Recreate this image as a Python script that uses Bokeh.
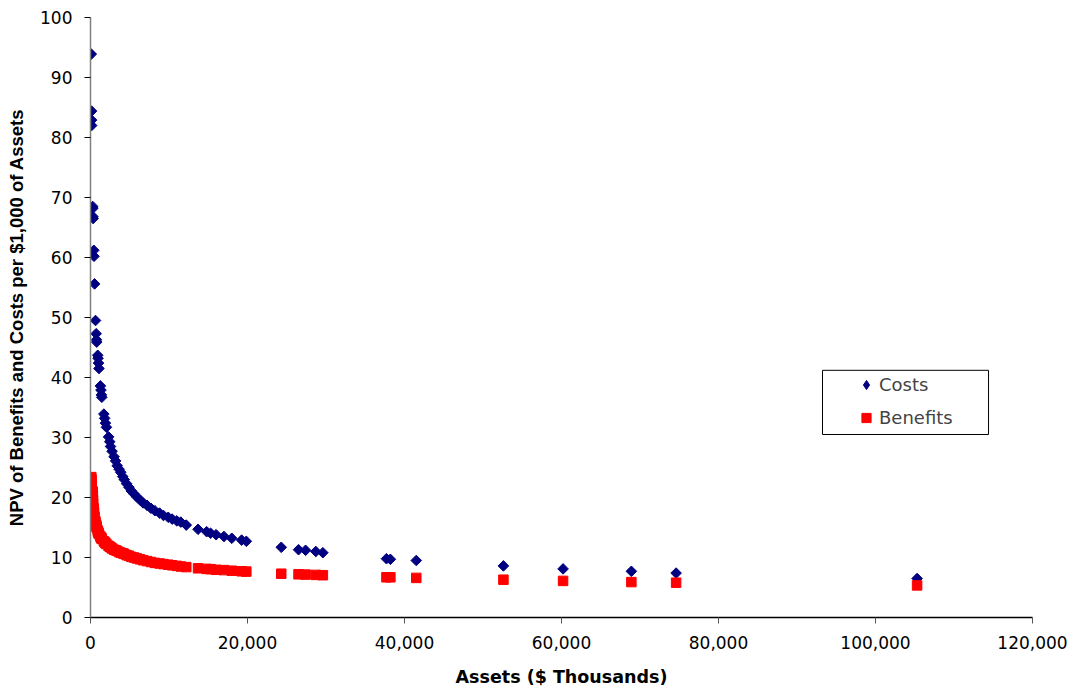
from bokeh.plotting import figure
from bokeh.models import (Range1d, NumeralTickFormatter, FixedTicker, Legend, LegendItem,
                          BoxAnnotation, ColumnDataSource)
from bokeh.embed import file_html
from bokeh.resources import INLINE
import math

# ---- data ----
assets = [100, 130, 140, 150, 280, 300, 320, 330, 420, 450, 520, 640, 720, 760, 790,
          920, 960, 1020, 1080, 1260, 1330, 1390, 1440, 1700, 1800, 1900, 2030, 2300,
          2450, 2550, 2750, 3000, 3200, 3400, 3650, 3850, 4100, 4300, 4600, 4900, 5200,
          5550, 5900, 6300, 6700, 7200, 7700, 8200, 8800, 9300, 9900, 10400, 11000,
          11500, 12200, 13700, 14800, 15300, 16000, 17000, 18000, 19250, 19850, 24300,
          26500, 27400, 28700, 29600, 37700, 38200, 41500, 52600, 60200, 68900, 74600,
          105300]
costs = [93.9, 84.4, 82.9, 82.0, 68.5, 68.2, 66.8, 66.5, 61.2, 60.2, 55.6, 49.5, 47.3,
         46.3, 45.9, 43.7, 43.2, 42.4, 41.5, 38.6, 37.9, 37.1, 36.7, 33.9, 33.2, 32.4,
         31.7, 30.1, 29.3, 28.5, 27.7, 26.8, 26.1, 25.3, 24.7, 24.2, 23.5, 23.0, 22.3,
         21.7, 21.1, 20.6, 20.1, 19.6, 19.1, 18.7, 18.2, 17.8, 17.4, 17.0, 16.7, 16.4,
         16.1, 15.9, 15.4, 14.7, 14.3, 14.05, 13.8, 13.5, 13.2, 12.9, 12.7, 11.7, 11.3,
         11.2, 11.0, 10.8, 9.8, 9.7, 9.5, 8.6, 8.1, 7.7, 7.4, 6.5]
benefits = [23.4, 23.0, 22.5, 22.0, 21.0, 20.3, 19.6, 19.0, 18.2, 17.5, 16.8, 16.0, 15.5,
            15.2, 15.0, 14.5, 14.3, 14.1, 13.9, 13.5, 13.3, 13.2, 13.1, 12.7, 12.55, 12.4,
            12.25, 11.95, 11.8, 11.7, 11.5, 11.3, 11.2, 11.1, 10.9, 10.8, 10.7, 10.6, 10.4,
            10.3, 10.1, 10.0, 9.85, 9.7, 9.55, 9.4, 9.25, 9.1, 9.0, 8.9, 8.8, 8.7, 8.6,
            8.5, 8.4, 8.2, 8.1, 8.05, 7.95, 7.9, 7.8, 7.7, 7.65, 7.3, 7.2, 7.15, 7.1, 7.05,
            6.7, 6.7, 6.6, 6.3, 6.1, 5.9, 5.8, 5.35]
x_ticks = [0, 20000, 40000, 60000, 80000, 100000, 120000]
y_ticks = [0, 10, 20, 30, 40, 50, 60, 70, 80, 90, 100]
series_names = ["Costs", "Benefits"]

src = ColumnDataSource(dict(assets=assets, costs=costs, benefits=benefits))

p = figure(frame_width=942, frame_height=600,
           x_range=Range1d(0, 120000), y_range=Range1d(0, 100),
           output_backend="svg", toolbar_location=None,
           min_border_left=90, min_border_top=17, min_border_right=39, min_border_bottom=72)
p.background_fill_color = "white"
p.border_fill_color = "white"
p.outline_line_color = None
p.xgrid.visible = False
p.ygrid.visible = False

p.xaxis.ticker = FixedTicker(ticks=x_ticks)
p.yaxis.ticker = FixedTicker(ticks=y_ticks)
p.xaxis.formatter = NumeralTickFormatter(format="0,0")

for ax in (p.xaxis[0], p.yaxis[0]):
    ax.major_tick_in = 0
    ax.major_tick_out = 6
    ax.minor_tick_in = 0
    ax.minor_tick_out = 0
    ax.major_label_text_font = "DejaVu Sans"
    ax.major_label_text_font_size = "17px"
    ax.major_label_text_color = "black"
    ax.axis_label_text_font_style = "bold"
    ax.axis_label_text_color = "black"

p.xaxis.axis_line_color = "black"
p.xaxis.axis_line_width = 1.5
p.xaxis.major_tick_line_color = "#555555"
p.xaxis.major_label_standoff = 12
p.xaxis.axis_label = "Assets ($ Thousands)"
p.xaxis.axis_label_standoff = 15
p.xaxis.axis_label_text_font = "DejaVu Sans"
p.xaxis.axis_label_text_font_size = "17.5px"

p.yaxis.axis_line_color = "#808080"
p.yaxis.axis_line_width = 1.5
p.yaxis.major_tick_line_color = "black"
p.yaxis.major_label_standoff = 12
p.yaxis.axis_label = "NPV of Benefits and Costs per $1,000 of Assets"
p.yaxis.axis_label_standoff = 10
p.yaxis.axis_label_text_font = "Liberation Sans"
p.yaxis.axis_label_text_font_size = "18.5px"

r_cost = p.scatter("assets", "costs", source=src, marker="square", angle=math.pi / 4,
                   size=7.5, fill_color="#000080", line_color="#000080")
r_ben = p.scatter("assets", "benefits", source=src, marker="square",
                  size=9.5, fill_color="#FF0000", line_color="#FF0000")

# legend key for the diamond symbol (legend glyphs ignore marker angle):
# same data, drawn on a hidden range so it never shows inside the plot area
p.extra_y_ranges = {"key": Range1d(1000, 2000)}
r_cost_key = p.scatter("assets", "costs", source=src, marker="diamond",
                       y_range_name="key",
                       fill_color="#000080", line_color="#000080")

box = BoxAnnotation(left=93250, right=114400, top=41.2, bottom=30.5,
                    fill_alpha=0, line_color="black", line_alpha=1, line_width=1)
p.add_layout(box)

legend = Legend(items=[LegendItem(label=series_names[0], renderers=[r_cost_key]),
                       LegendItem(label=series_names[1], renderers=[r_ben])],
                location=(764, 188), padding=0, margin=0, spacing=10,
                glyph_width=24, glyph_height=23, label_height=23, label_standoff=1,
                label_text_font="DejaVu Sans", label_text_font_size="18px",
                border_line_alpha=0, background_fill_alpha=0)
p.add_layout(legend)

open("out.html", "w").write(file_html(p, INLINE))
